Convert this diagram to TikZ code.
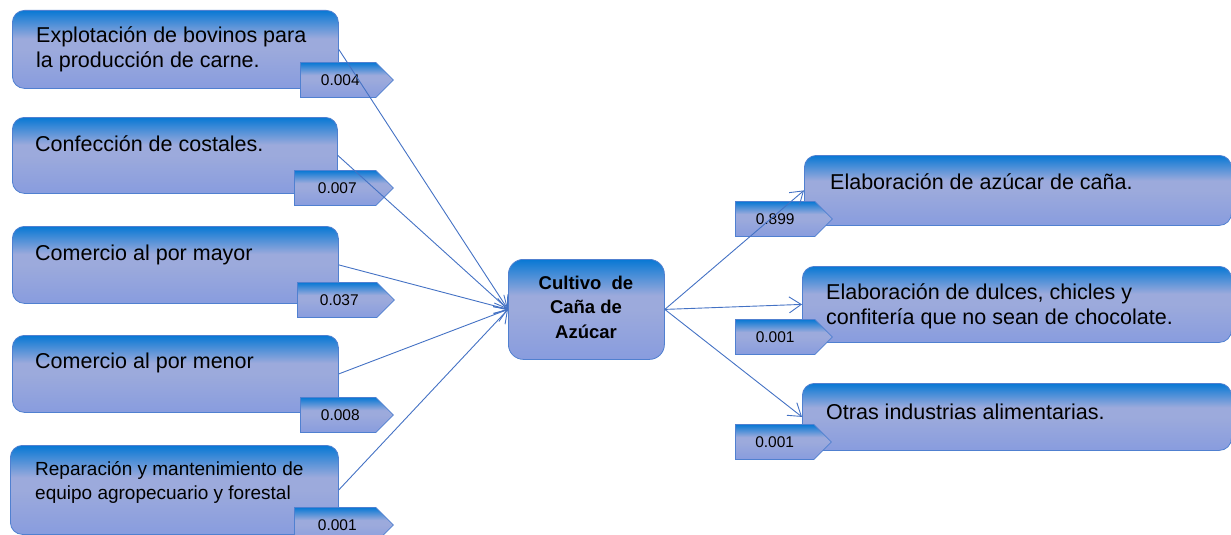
\documentclass[tikz,border=0pt]{standalone}
\usepackage{fontspec}
\setmainfont{Liberation Sans}
\usetikzlibrary{arrows.meta,shapes.symbols}
\definecolor{boxtop}{RGB}{8,120,212}
\definecolor{boxmid}{RGB}{156,170,220}
\definecolor{boxbot}{RGB}{136,156,222}
\definecolor{boxline}{RGB}{80,128,208}
\definecolor{linkblue}{RGB}{68,114,196}
\pgfdeclareverticalshading{sectorshade}{100bp}{color(0bp)=(boxbot); color(25bp)=(boxbot); color(50bp)=(boxmid); color(57bp)=(boxmid); color(75bp)=(boxtop); color(100bp)=(boxtop)}
\begin{document}
\begin{tikzpicture} [x=1pt,y=-1pt,
	sector/.style={shape=rectangle,rounded corners=12pt,draw=boxline,line width=0.8pt,shading=sectorshade,anchor=north west,inner sep=0pt},
	sectortext/.style={anchor=west,align=left,inner sep=0pt,font=\fontsize{21.5}{25}\selectfont},
	valtag/.style={shape=signal,signal to=east,anchor=west,draw=boxline,line width=0.8pt,shading=sectorshade,minimum height=35pt,inner sep=0pt,font=\fontsize{15.5}{17}\selectfont},
	link/.style={draw=linkblue,line width=0.9pt,-{Straight Barb[length=12pt,width=16pt]}}]
	\useasboundingbox (0,0) rectangle (1231,535);
	\clip (0,0) rectangle (1231,535);

	\node (bovinos) at (12,10)[sector,minimum width=326pt,minimum height=78pt] {};
	\node (costales) at (12,117)[sector,minimum width=325pt,minimum height=76pt] {};
	\node (mayor) at (12,226)[sector,minimum width=326pt,minimum height=77pt] {};
	\node (menor) at (12,335)[sector,minimum width=326pt,minimum height=77pt] {};
	\node (reparacion) at (10,445)[sector,minimum width=328pt,minimum height=89pt] {};
	\node (cultivo) at (508,259)[sector,rounded corners=15pt,minimum width=156pt,minimum height=100pt] {};
	\node (azucar) at (804,155)[sector,minimum width=427pt,minimum height=70pt] {};
	\node (dulces) at (802,266)[sector,minimum width=429pt,minimum height=76pt] {};
	\node (otras) at (802,383)[sector,minimum width=429pt,minimum height=67pt] {};

	\node (bovinosText) at (36,49)[sectortext] {Explotación de bovinos para\\la producción de carne.};
	\node (costalesText) at (35,144)[sectortext] {Confección de costales.};
	\node (mayorText) at (35,255)[sectortext] {Comercio al por mayor};
	\node (menorText) at (35,363)[sectortext] {Comercio al por menor};
	\node (reparacionText) at (35,482)[sectortext,font=\fontsize{19}{24}\selectfont] {Reparación y mantenimiento de\\equipo agropecuario y forestal};
	\node (cultivoText) at (586,307)[align=center,inner sep=0pt,font=\fontsize{18.5}{24.5}\bfseries\selectfont] {Cultivo~ de\\Caña de\\Azúcar};
	\node (azucarText) at (830,182)[sectortext] {Elaboración de azúcar de caña.};
	\node (dulcesText) at (826,306)[sectortext] {Elaboración de dulces, chicles y\\confitería que no sean de chocolate.};
	\node (otrasText) at (826,412)[sectortext] {Otras industrias alimentarias.};

	\node (bovinosTag) at (300,80)[valtag,minimum width=93pt] {\raisebox{-3pt}{~0.004}};
	\node (costalesTag) at (294,188)[valtag,minimum width=99pt] {\raisebox{-3pt}{~0.007}};
	\node (mayorTag) at (297,300)[valtag,minimum width=97pt] {\raisebox{-1pt}{~0.037}};
	\node (menorTag) at (300,415)[valtag,minimum width=93pt] {\raisebox{-1pt}{~0.008}};
	\node (reparacionTag) at (294,525)[valtag,minimum width=99pt] {\raisebox{-1pt}{~0.001}};
	\node (azucarTag) at (735,219)[valtag,minimum width=97pt] {\raisebox{-3pt}{0.899}};
	\node (dulcesTag) at (735,337)[valtag,minimum width=97pt] {\raisebox{-3pt}{0.001}};
	\node (otrasTag) at (735,442)[valtag,minimum width=96pt] {\raisebox{-3pt}{0.001}};

	\draw[link] (bovinos.east) -- (cultivo.west);
	\draw[link] (costales.east) -- (cultivo.west);
	\draw[link] (mayor.east) -- (cultivo.west);
	\draw[link] (menor.east) -- (cultivo.west);
	\draw[link] (reparacion.east) -- (cultivo.west);
	\draw[link] (cultivo.east) -- (azucar.west);
	\draw[link] (cultivo.east) -- (dulces.west);
	\draw[link] (cultivo.east) -- (otras.west);
\end{tikzpicture}
\end{document}
